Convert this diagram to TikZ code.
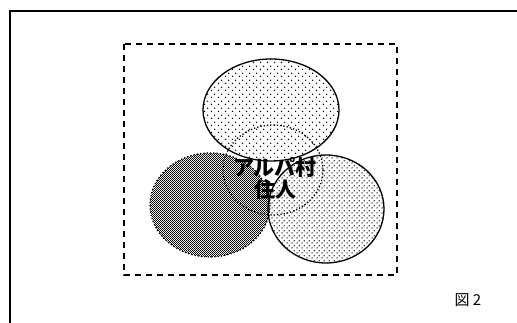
\documentclass[tikz,border=0pt]{standalone}
\usepackage{fontspec}
\usepackage{tikz}
\usetikzlibrary{patterns,patterns.meta}
\newfontfamily\jpfont{Noto Sans CJK JP}
\tikzdeclarepattern{name=sparsedots, bounding box={(0pt,0pt) and (7pt,7pt)}, tile size={(7pt,7pt)},
  code={\fill (1.75pt,1.75pt) circle (0.85pt); \fill (5.25pt,5.25pt) circle (0.85pt);}}
\tikzdeclarepattern{name=densedots, bounding box={(0pt,0pt) and (4.6pt,4.6pt)}, tile size={(4.6pt,4.6pt)},
  code={\fill (1.15pt,1.15pt) circle (0.75pt); \fill (3.45pt,3.45pt) circle (0.75pt);}}
\tikzdeclarepattern{name=darkdots, bounding box={(0pt,0pt) and (2.4pt,2.4pt)}, tile size={(2.4pt,2.4pt)},
  code={\fill (0.6pt,0.6pt) circle (0.7pt); \fill (1.8pt,1.8pt) circle (0.7pt);}}
\tikzset{
  frame/.style={line width=2pt},
  areabox/.style={dashed, dash pattern=on 6pt off 5pt, line width=1.4pt},
  group/.style={line width=1.3pt},
  villager/.style={font=\jpfont\bfseries\fontsize{21}{22}\selectfont, align=center, inner sep=0pt}
}
\begin{document}
\begin{tikzpicture}[x=1pt,y=-1pt]
\useasboundingbox (0,0) rectangle (517,323);
\clip (0,0) rectangle (517,323);
% outer frame
\draw[frame] (10,11) rectangle (540,345);
% area
\draw[areabox] (124,44) rectangle (397,275);
% three groups
\draw[group, pattern=sparsedots] (271,110) ellipse [x radius=68, y radius=51];
\draw[group, dotted, pattern=darkdots] (210,205) ellipse [x radius=60, y radius=52];
\draw[group, pattern=densedots] (326,209) ellipse [x radius=58, y radius=54];
% villagers
\draw[group, dotted] (273,170) ellipse [x radius=50, y radius=45];
\node[villager] (alpa) at (275,178) {アルパ村\\住人};
\node[font=\jpfont\fontsize{15}{17}\selectfont, anchor=west] (fig) at (451,300) {図 2};
\end{tikzpicture}
\end{document}
